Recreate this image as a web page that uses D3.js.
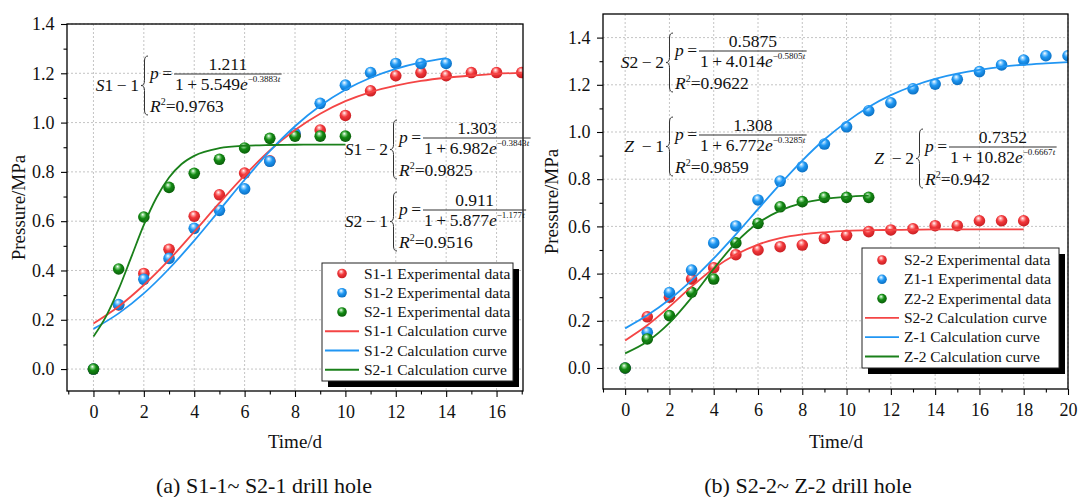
<!DOCTYPE html>
<html>
<head>
<meta charset="utf-8">
<script src="https://cdn.jsdelivr.net/npm/d3@7"></script>
<style>
  body { margin: 0; background: #fff; }
  text { font-family: "Liberation Serif", "Times New Roman", serif; fill: #111; }
  .grid line { stroke: #c4c4c4; stroke-width: 1; stroke-dasharray: 2,2; }
</style>
</head>
<body>
<svg id="chart" width="1078" height="497"></svg>
<script>
// ---- data ----
// left panel (a)
var s11Time = [0, 1, 2, 3, 4, 5, 6, 7, 8, 9, 10, 11, 12, 13, 14, 15, 16, 17];
var s11Exp  = [0, 0.26, 0.388, 0.486, 0.62, 0.707, 0.795, 0.845, 0.95, 0.97, 1.029, 1.129, 1.19, 1.203, 1.19, 1.203, 1.203, 1.203];
var s12Time = [0, 1, 2, 3, 4, 5, 6, 7, 8, 9, 10, 11, 12, 13, 14];
var s12Exp  = [0, 0.262, 0.364, 0.449, 0.571, 0.644, 0.731, 0.843, 0.956, 1.078, 1.152, 1.203, 1.24, 1.24, 1.24];
var s21Time = [0, 1, 2, 3, 4, 5, 6, 7, 8, 9, 10];
var s21Exp  = [0, 0.406, 0.617, 0.737, 0.794, 0.851, 0.897, 0.936, 0.945, 0.945, 0.945];

var s11FitTime = [0, 1, 2, 3, 4, 5, 6, 7, 8, 9, 10, 11, 12, 13, 14, 15, 16, 17];
var s11Fit     = [0.185, 0.254, 0.341, 0.443, 0.557, 0.674, 0.786, 0.887, 0.970, 1.036, 1.087, 1.124, 1.150, 1.169, 1.182, 1.191, 1.198, 1.202];
var s12FitTime = [0, 1, 2, 3, 4, 5, 6, 7, 8, 9, 10, 11, 12, 13, 14];
var s12Fit     = [0.163, 0.226, 0.307, 0.407, 0.521, 0.644, 0.768, 0.884, 0.985, 1.068, 1.133, 1.182, 1.218, 1.244, 1.262];
var s21FitTime = [0, 0.5, 1, 1.5, 2, 2.5, 3, 3.5, 4, 5, 6, 7, 8, 9, 10];
var s21Fit     = [0.132, 0.214, 0.324, 0.454, 0.585, 0.695, 0.777, 0.832, 0.865, 0.896, 0.906, 0.909, 0.910, 0.911, 0.911];

// right panel (b)
var s22Time = [0, 1, 2, 3, 4, 5, 6, 7, 8, 9, 10, 11, 12, 13, 14, 15, 16, 17, 18];
var s22Exp  = [0, 0.217, 0.30, 0.377, 0.425, 0.48, 0.50, 0.514, 0.521, 0.549, 0.562, 0.578, 0.585, 0.59, 0.603, 0.603, 0.624, 0.624, 0.624];
var z11Time = [0, 1, 2, 3, 4, 5, 6, 7, 8, 9, 10, 11, 12, 13, 14, 15, 16, 17, 18, 19, 20];
var z11Exp  = [0, 0.151, 0.32, 0.415, 0.53, 0.602, 0.712, 0.792, 0.853, 0.949, 1.022, 1.09, 1.124, 1.183, 1.203, 1.223, 1.256, 1.284, 1.305, 1.323, 1.323];
var z22Time = [0, 1, 2, 3, 4, 5, 6, 7, 8, 9, 10, 11];
var z22Exp  = [0, 0.123, 0.222, 0.321, 0.377, 0.53, 0.613, 0.683, 0.705, 0.723, 0.723, 0.723];

var s22FitTime = [0, 1, 2, 3, 4, 5, 6, 7, 8, 9, 10, 11, 12, 13, 14, 15, 16, 17, 18];
var s22Fit     = [0.117, 0.181, 0.260, 0.345, 0.422, 0.481, 0.523, 0.550, 0.566, 0.575, 0.581, 0.584, 0.585, 0.586, 0.587, 0.587, 0.587, 0.587, 0.587];
var z1FitTime  = [0, 1, 2, 3, 4, 5, 6, 7, 8, 9, 10, 11, 12, 13, 14, 15, 16, 17, 18, 19, 20];
var z1Fit      = [0.168, 0.223, 0.290, 0.371, 0.464, 0.566, 0.673, 0.779, 0.879, 0.968, 1.043, 1.106, 1.156, 1.195, 1.225, 1.247, 1.263, 1.276, 1.285, 1.291, 1.296];
var z2FitTime  = [0, 1, 2, 3, 4, 5, 6, 7, 8, 9, 10, 11];
var z2Fit      = [0.062, 0.112, 0.191, 0.298, 0.420, 0.531, 0.614, 0.667, 0.699, 0.716, 0.725, 0.730];

// ticks
var leftXTicks  = [0, 2, 4, 6, 8, 10, 12, 14, 16];
var leftXMinor  = [-1, 1, 3, 5, 7, 9, 11, 13, 15, 17];
var rightXTicks = [0, 2, 4, 6, 8, 10, 12, 14, 16, 18, 20];
var rightXMinor = [-1, 1, 3, 5, 7, 9, 11, 13, 15, 17, 19];
var yTicks = [0, 0.2, 0.4, 0.6, 0.8, 1.0, 1.2, 1.4];
var yMinor = [0.1, 0.3, 0.5, 0.7, 0.9, 1.1, 1.3];

// legend + equation texts
var leftLegend  = ["S1-1 Experimental data", "S1-2 Experimental data", "S2-1 Experimental data",
                   "S1-1 Calculation curve", "S1-2 Calculation curve", "S2-1 Calculation curve"];
var rightLegend = ["S2-2 Experimental data", "Z1-1 Experimental data", "Z2-2 Experimental data",
                   "S2-2 Calculation curve", "Z-1 Calculation curve", "Z-2 Calculation curve"];
var leftEqLabels  = ["S1\u22121", "S1\u22122", "S2\u22121"];
var leftEqNum     = ["1.211", "1.303", "0.911"];
var leftEqCoef    = ["5.549", "6.982", "5.877"];
var leftEqRate    = ["0.3883", "0.3843", "1.177"];
var leftEqR2      = ["0.9763", "0.9825", "0.9516"];
var rightEqLabels = ["S2\u22122", "Z \u22121", "Z \u22122"];
var rightEqNum    = ["0.5875", "1.308", "0.7352"];
var rightEqCoef   = ["4.014", "6.772", "10.82"];
var rightEqRate   = ["0.5805", "0.3285", "0.6667"];
var rightEqR2     = ["0.9622", "0.9859", "0.942"];

( function () {

    window.addEventListener('load', init);

    var colors = {
        red:   {base: "#f2383b", dark: "#c81e22", light: "#ff9a9a", line: "#f44545"},
        blue:  {base: "#1f97f2", dark: "#0a6fc2", light: "#8fd0ff", line: "#2196f3"},
        green: {base: "#138a13", dark: "#0a5e0a", light: "#7fcf7f", line: "#1a801a"}
    };

    function init() {
        var svg = d3.select("#chart");
        var defs = svg.append("defs");

        Object.keys(colors).forEach(function (k) {
            var c = colors[k];
            var grad = defs.append("radialGradient")
                .attr("id", "ball-" + k)
                .attr("cx", "45%").attr("cy", "40%").attr("r", "60%")
                .attr("fx", "40%").attr("fy", "28%");
            grad.append("stop").attr("offset", "0%").attr("stop-color", "#ffffff");
            grad.append("stop").attr("offset", "22%").attr("stop-color", c.light);
            grad.append("stop").attr("offset", "50%").attr("stop-color", c.base);
            grad.append("stop").attr("offset", "100%").attr("stop-color", c.dark);
        });

        function zip(t, v) {
            return t.map(function (d, i) { return {t: d, v: v[i]}; });
        }

        var panels = [
            {
                id: "a", left: 67, right: 523, top: 24, bottom: 391,
                xDomain: [-1.05, 17.05], yDomain: [-0.089, 1.4],
                xTicks: leftXTicks, xMinor: leftXMinor,
                points: [zip(s11Time, s11Exp), zip(s12Time, s12Exp), zip(s21Time, s21Exp)],
                fits: [zip(s11FitTime, s11Fit), zip(s12FitTime, s12Fit), zip(s21FitTime, s21Fit)],
                legend: leftLegend, legendBox: {x: 322, y: 263, w: 191, h: 118, row0: 273.5, step: 19.25},
                eqs: {labels: leftEqLabels, num: leftEqNum, coef: leftEqCoef, rate: leftEqRate, r2: leftEqR2},
                eqPos: [{xb: 141, L: 74}, {xb: 390, L: 138}, {xb: 390, L: 210}],
                yTitleX: 25, xTitleX: 295, caption: "(a) S1-1~ S2-1 drill hole", captionX: 264
            },
            {
                id: "b", left: 603, right: 1068, top: 14, bottom: 389,
                xDomain: [-1, 20], yDomain: [-0.089, 1.5],
                xTicks: rightXTicks, xMinor: rightXMinor,
                points: [zip(s22Time, s22Exp), zip(z11Time, z11Exp), zip(z22Time, z22Exp)],
                fits: [zip(s22FitTime, s22Fit), zip(z1FitTime, z1Fit), zip(z2FitTime, z2Fit)],
                legend: rightLegend, legendBox: {x: 862, y: 248, w: 197, h: 120, row0: 260, step: 19.3},
                eqs: {labels: rightEqLabels, num: rightEqNum, coef: rightEqCoef, rate: rightEqRate, r2: rightEqR2},
                eqPos: [{xb: 666, L: 51}, {xb: 666, L: 135}, {xb: 916, L: 147}],
                yTitleX: 558, xTitleX: 836, caption: "(b) S2-2~ Z-2 drill hole", captionX: 808
            }
        ];

        var order = ["red", "blue", "green"];

        panels.forEach(function (p) {
            var g = svg.append("g");
            var x = d3.scaleLinear().domain(p.xDomain).range([p.left, p.right]);
            var y = d3.scaleLinear().domain(p.yDomain).range([p.bottom, p.top]);

            defs.append("clipPath").attr("id", "clip-" + p.id)
                .append("rect")
                .attr("x", p.left).attr("y", p.top)
                .attr("width", p.right - p.left).attr("height", p.bottom - p.top);

            // grid
            var grid = g.append("g").attr("class", "grid");
            grid.selectAll(".gx").data(p.xTicks).enter().append("line")
                .attr("x1", function (d) { return x(d); }).attr("x2", function (d) { return x(d); })
                .attr("y1", p.top).attr("y2", p.bottom);
            grid.selectAll(".gy").data(yTicks).enter().append("line")
                .attr("y1", function (d) { return y(d); }).attr("y2", function (d) { return y(d); })
                .attr("x1", p.left).attr("x2", p.right);

            // axes
            var xAxis = g.append("g")
                .attr("transform", "translate(0," + p.bottom + ")")
                .call(d3.axisBottom(x).tickValues(p.xTicks).tickSize(6).tickPadding(8).tickFormat(d3.format("d")));
            g.append("g")
                .attr("transform", "translate(0," + p.bottom + ")")
                .call(d3.axisBottom(x).tickValues(p.xMinor).tickSize(3.5).tickFormat(""));
            var yAxis = g.append("g")
                .attr("transform", "translate(" + p.left + ",0)")
                .call(d3.axisLeft(y).tickValues(yTicks).tickSize(6).tickPadding(6.5).tickFormat(d3.format(".1f")));
            g.append("g")
                .attr("transform", "translate(" + p.left + ",0)")
                .call(d3.axisLeft(y).tickValues(yMinor).tickSize(3.5).tickFormat(""));
            g.selectAll(".domain").remove();
            g.selectAll(".tick line").attr("stroke", "#000").attr("stroke-width", 1.1);
            [xAxis, yAxis].forEach(function (a) {
                a.attr("font-family", null).attr("font-size", null);
                a.selectAll("text").style("font-size", "18px").attr("fill", "#111");
            });

            // curves and points
            var plot = g.append("g").attr("clip-path", "url(#clip-" + p.id + ")");
            var line = d3.line()
                .x(function (d) { return x(d.t); })
                .y(function (d) { return y(d.v); })
                .curve(d3.curveMonotoneX);

            p.points.forEach(function (pts, i) {
                plot.append("g").selectAll("circle")
                    .data(pts).enter().append("circle")
                    .attr("cx", function (d) { return x(d.t); })
                    .attr("cy", function (d) { return y(d.v); })
                    .attr("r", 5.8)
                    .attr("fill", "url(#ball-" + order[i] + ")");
            });
            p.fits.forEach(function (pts, i) {
                plot.append("path")
                    .datum(pts)
                    .attr("fill", "none")
                    .attr("stroke", colors[order[i]].line)
                    .attr("stroke-width", 1.8)
                    .attr("d", line);
            });

            // frame
            g.append("rect")
                .attr("x", p.left).attr("y", p.top)
                .attr("width", p.right - p.left).attr("height", p.bottom - p.top)
                .attr("fill", "none").attr("stroke", "#000").attr("stroke-width", 1.3);

            // equations
            p.eqPos.forEach(function (pos, i) {
                drawEq(g, pos.xb, pos.L, p.eqs.labels[i], p.eqs.num[i], p.eqs.coef[i], p.eqs.rate[i], p.eqs.r2[i]);
            });

            // legend
            var lb = p.legendBox;
            var leg = g.append("g");
            leg.append("rect")
                .attr("x", lb.x + 6).attr("y", lb.y + 6).attr("width", lb.w).attr("height", lb.h)
                .attr("fill", "#000");
            leg.append("rect")
                .attr("x", lb.x).attr("y", lb.y).attr("width", lb.w).attr("height", lb.h)
                .attr("fill", "#fff").attr("stroke", "#222").attr("stroke-width", 1);
            p.legend.forEach(function (label, i) {
                var ry = lb.row0 + i * lb.step;
                var c = order[i % 3];
                if (i < 3) {
                    leg.append("circle").attr("cx", lb.x + 20).attr("cy", ry).attr("r", 4.8)
                        .attr("fill", "url(#ball-" + c + ")");
                } else {
                    leg.append("line")
                        .attr("x1", lb.x + 3).attr("x2", lb.x + 37).attr("y1", ry).attr("y2", ry)
                        .attr("stroke", colors[c].line).attr("stroke-width", 1.8);
                }
                leg.append("text")
                    .attr("x", lb.x + 42).attr("y", ry + 5)
                    .style("font-size", "15.5px")
                    .text(label);
            });

            // axis titles
            g.append("text")
                .attr("transform", "translate(" + p.yTitleX + "," + ((p.top + p.bottom) / 2) + ") rotate(-90)")
                .attr("text-anchor", "middle")
                .style("font-size", "19px")
                .text("Pressure/MPa");
            g.append("text")
                .attr("x", p.xTitleX).attr("y", 448)
                .attr("text-anchor", "middle")
                .style("font-size", "19px")
                .text("Time/d");
            g.append("text")
                .attr("x", p.captionX).attr("y", 493)
                .attr("text-anchor", "middle")
                .style("font-size", "22px")
                .text(p.caption);
        });
    }

    function drawEq(g, xb, L, label, num, coef, rate, r2) {
        var eq = g.append("g").style("font-size", "17.5px");

        // label, e.g. S1-1 with italic letter
        var lt = eq.append("text").attr("x", xb - 2).attr("y", L + 17).attr("text-anchor", "end");
        lt.append("tspan").style("font-style", "italic").text(label.charAt(0));
        lt.append("tspan").text(label.slice(1).replace("\u2212", "\u2009\u2212\u2009"));

        // curly brace
        var y0 = L - 18, y1 = L + 41, ym = (y0 + y1) / 2, bx = xb + 7, w = 7, r = 5;
        eq.append("path")
            .attr("d", "M" + bx + "," + y0 +
                " Q" + (bx - w / 2) + "," + y0 + " " + (bx - w / 2) + "," + (y0 + r) +
                " L" + (bx - w / 2) + "," + (ym - r) +
                " Q" + (bx - w / 2) + "," + ym + " " + (bx - w) + "," + ym +
                " Q" + (bx - w / 2) + "," + ym + " " + (bx - w / 2) + "," + (ym + r) +
                " L" + (bx - w / 2) + "," + (y1 - r) +
                " Q" + (bx - w / 2) + "," + y1 + " " + bx + "," + y1)
            .attr("fill", "none").attr("stroke", "#333").attr("stroke-width", 1);

        // p =
        var pt = eq.append("text").attr("x", xb + 9).attr("y", L + 4.5);
        pt.append("tspan").style("font-style", "italic").text("p");
        pt.append("tspan").text("\u2009=");

        // denominator
        var fx = xb + 33;
        var den = eq.append("text").attr("x", fx + 1).attr("y", L + 16);
        den.append("tspan").text("1\u2009+\u2009" + coef);
        den.append("tspan").style("font-style", "italic").text("e");
        den.append("tspan").attr("dy", -8).style("font-size", "9px").text("\u2212" + rate);
        den.append("tspan").style("font-size", "9px").style("font-style", "italic").text("t");
        var dw = den.node().getBBox().width + 2;

        eq.append("line")
            .attr("x1", fx).attr("x2", fx + dw).attr("y1", L).attr("y2", L)
            .attr("stroke", "#333").attr("stroke-width", 1.1);
        eq.append("text")
            .attr("x", fx + dw / 2).attr("y", L - 4)
            .attr("text-anchor", "middle")
            .text(num);

        // R^2
        var rt = eq.append("text").attr("x", xb + 9).attr("y", L + 38);
        rt.append("tspan").style("font-style", "italic").text("R");
        rt.append("tspan").attr("dy", -7).style("font-size", "10px").text("2");
        rt.append("tspan").attr("dy", 7).text("=" + r2);
    }
})()
</script>
</body>
</html>
